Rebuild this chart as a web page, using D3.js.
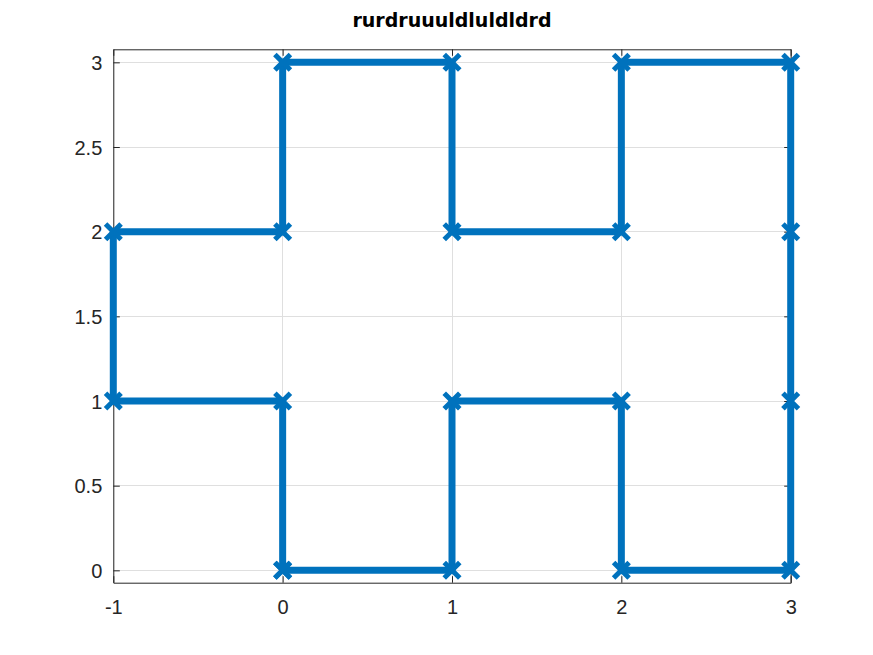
<!DOCTYPE html>
<html>
<head>
<meta charset="utf-8">
<script src="https://cdn.jsdelivr.net/npm/d3@7"></script>
<style>
html,body{margin:0;padding:0;background:#fff;}
svg{display:block;}
</style>
</head>
<body>
<svg id="chart" width="873" height="655"></svg>
<script>
// Data
const title = "rurdruuuldluldldrd";
const xs = [0, 1, 1, 2, 2, 3, 3, 3, 3, 2, 2, 1, 1, 0, 0, -1, -1, 0, 0];
const ys = [0, 0, 1, 1, 0, 0, 1, 2, 3, 3, 2, 2, 3, 3, 2, 2, 1, 1, 0];
const xTicks = [-1, 0, 1, 2, 3];
const yTicks = [0, 0.5, 1, 1.5, 2, 2.5, 3];
const xDomain = [-1, 3];
const yDomain = [-0.073, 3.077];

(function(){
const pL = 113.3, pR = 790.7, pT = 49.3, pB = 582.7;
const svg = d3.select("#chart");
const x = d3.scaleLinear().domain(xDomain).range([pL, pR]);
const y = d3.scaleLinear().domain(yDomain).range([pB, pT]);
const axisColor = "#262626";
const font = "'Liberation Sans', Arial, Helvetica, sans-serif";

// grid
const grid = svg.append("g");
grid.selectAll("line.gx").data(xTicks).join("line")
  .attr("x1", d => x(d)).attr("x2", d => x(d))
  .attr("y1", pT).attr("y2", pB)
  .attr("stroke", "#dfdfdf").attr("stroke-width", 1).attr("shape-rendering", "crispEdges");
grid.selectAll("line.gy").data(yTicks).join("line")
  .attr("y1", d => y(d)).attr("y2", d => y(d))
  .attr("x1", pL).attr("x2", pR)
  .attr("stroke", "#dfdfdf").attr("stroke-width", 1).attr("shape-rendering", "crispEdges");

// axes with inward ticks
const tl = 6.5;
const fmt = d => String(d);
const axB = d3.axisBottom(x).tickValues(xTicks).tickFormat(fmt).tickSizeInner(-tl).tickSizeOuter(0);
const axT = d3.axisTop(x).tickValues(xTicks).tickFormat("").tickSizeInner(-tl).tickSizeOuter(0);
const axL = d3.axisLeft(y).tickValues(yTicks).tickFormat(fmt).tickSizeInner(-tl).tickSizeOuter(0);
const axR = d3.axisRight(y).tickValues(yTicks).tickFormat("").tickSizeInner(-tl).tickSizeOuter(0);

function style(g){
  g.selectAll("path.domain").attr("stroke", axisColor).attr("stroke-width", 1);
  g.selectAll(".tick line").attr("stroke", axisColor).attr("stroke-width", 1);
  g.selectAll(".tick text").attr("fill", axisColor).attr("font-family", font).attr("font-size", 20);
}
const gB = svg.append("g").attr("transform", `translate(0,${pB})`).call(axB); style(gB);
const gT = svg.append("g").attr("transform", `translate(0,${pT})`).call(axT); style(gT);
const gL = svg.append("g").attr("transform", `translate(${pL},0)`).call(axL); style(gL);
const gR = svg.append("g").attr("transform", `translate(${pR},0)`).call(axR); style(gR);
gL.selectAll(".tick text").attr("x", -11).attr("dy", "0.35em");
gB.selectAll(".tick text").attr("y", 17).attr("dy", "0.71em");

// line
const pts = xs.map((v, i) => [v, ys[i]]);
const color = "#0072BD";
svg.append("path").datum(pts)
  .attr("d", d3.line().x(d => x(d[0])).y(d => y(d[1])))
  .attr("fill", "none").attr("stroke", color).attr("stroke-width", 7)
  .attr("stroke-linejoin", "miter").attr("stroke-linecap", "butt");

// markers
const m = 6;
svg.append("g").selectAll("path").data(pts).join("path")
  .attr("transform", d => `translate(${x(d[0])},${y(d[1])})`)
  .attr("d", `M${-m},${-m}L${m},${m}M${-m},${m}L${m},${-m}`)
  .attr("stroke", color).attr("stroke-width", 5).attr("stroke-linecap", "square").attr("fill", "none");

// title
svg.append("text").attr("x", (pL + pR) / 2).attr("y", 27)
  .attr("text-anchor", "middle").attr("font-family", "'DejaVu Sans', sans-serif").attr("font-weight", "bold")
  .attr("font-size", 19).attr("fill", "#000").text(title);
})();
</script>
</body>
</html>
